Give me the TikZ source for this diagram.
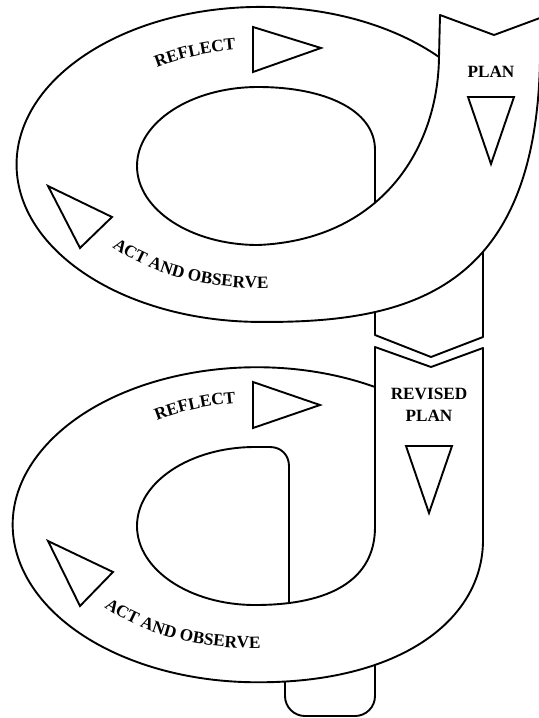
\documentclass[tikz,border=0pt]{standalone}
\usepackage{fontspec}
\setmainfont{Liberation Serif}
\usepackage{tikz}
\usetikzlibrary{decorations.text}
\newcommand{\lblfont}{\fontsize{8.6}{11}\selectfont\bfseries}

\begin{document}
\begin{tikzpicture}[
  x=0.5pt, y=-0.5pt,
  outline/.style={draw, line width=0.95pt, line join=round},
  band/.style={outline, fill=white},
  tri/.style={draw, line width=0.95pt, line join=miter},
  lbl/.style={font=\lblfont, align=center, inner sep=0pt},
  curved/.style={decorate, decoration={text along path, text align=center, text={#1}}}
]
  \useasboundingbox (0,0) rectangle (539,718);
  \clip (0,0) rectangle (539,718);

  % stem between the loops and stub below
  \draw[outline] (375,290) -- (375,335) -- (431,357) -- (483,337) -- (483,230);
  \draw[outline, rounded corners=10pt] (285,650) -- (285,716) -- (375,716) -- (375,650);

  % lower loop with revised plan band
  \draw[band] (375,387) arc[start angle=-61, end angle=-270, x radius=244, y radius=157.5]
    .. controls (400,683) and (483,620) .. (483,540)
    -- (483,348) -- (431,367) -- (375,347) -- cycle;
  \draw[outline] (375,387) -- (375,527) .. controls (375,580) and (330,605) .. (255,605)
    arc[start angle=90, end angle=270, x radius=118, y radius=79]
    -- (270,447) .. controls (281,447) and (289,455) .. (289,466) -- (289,603.5);

  % upper loop with plan band
  \draw[band] (439,57) arc[start angle=-43, end angle=-270, x radius=244, y radius=157.5]
    .. controls (410,323) and (535,290) .. (540,62)
    -- (548,15) -- (494,35) -- (440,15) -- cycle;
  \draw[outline] (439,57) .. controls (438,150) and (380,240) .. (258,245)
    arc[start angle=90, end angle=270, x radius=121, y radius=79]
    .. controls (325,87) and (375,110) .. (375,150) -- (375,203.5);

  % arrow heads
  \draw[tri] (253,27) -- (321,48) -- (253,72) -- cycle;
  \draw[tri] (468,97) -- (514,97) -- (491,164) -- cycle;
  \draw[tri] (48,186) -- (112,217) -- (80,248) -- cycle;
  \draw[tri] (253,382) -- (320,405) -- (253,428) -- cycle;
  \draw[tri] (406,446) -- (452,446) -- (429,513) -- cycle;
  \draw[tri] (48,541) -- (113,572) -- (80,606) -- cycle;

  % labels
  \node[lbl] (plan) at (491,72) {PLAN};
  \node[lbl] (revplan) at (429,405) {REVISED\\PLAN};
  \path[curved={|\lblfont|REFLECT}] (260,167) ++(-125:192 and 118)
    arc[start angle=-125, end angle=-95, x radius=192, y radius=118];
  \path[curved={|\lblfont|ACT AND OBSERVE}] (258,165) ++(143:196 and 123)
    arc[start angle=143, end angle=83, x radius=196, y radius=123];
  \path[curved={|\lblfont|REFLECT}] (260,520) ++(-125:192 and 118)
    arc[start angle=-125, end angle=-95, x radius=192, y radius=118];
  \path[curved={|\lblfont|ACT AND OBSERVE}] (250,525) ++(143:196 and 123)
    arc[start angle=143, end angle=83, x radius=196, y radius=123];
\end{tikzpicture}
\end{document}
